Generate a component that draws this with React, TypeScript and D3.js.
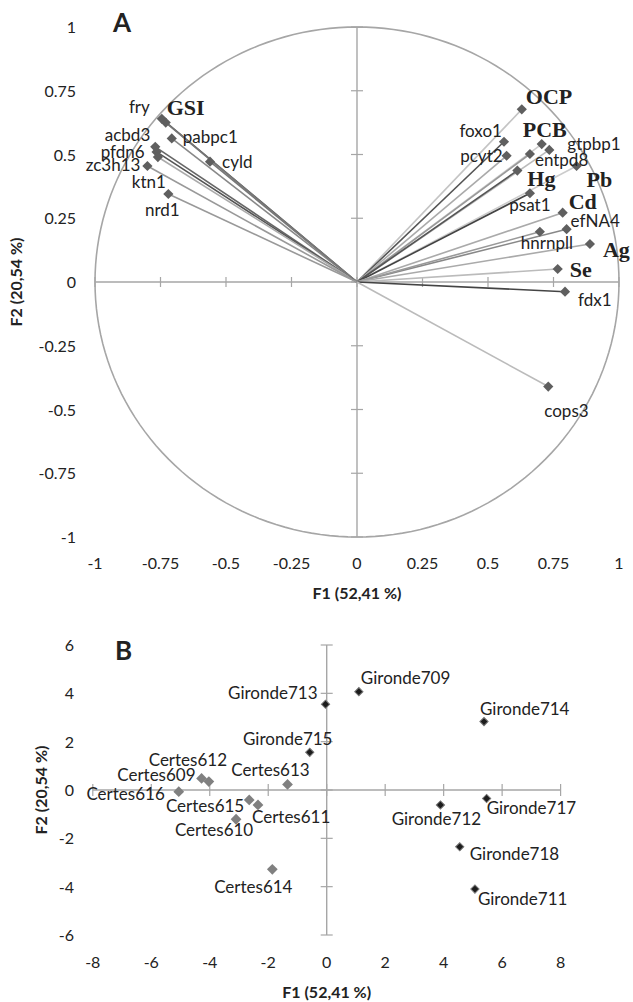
import * as d3 from "d3";

// Panel A: loadings on F1 / F2
const loadingNames = ["fry", "GSI", "acbd3", "pabpc1", "pfdn6", "ktn1", "zc3h13", "cyld", "nrd1",
  "OCP", "foxo1", "pcyt2", "PCB", "gtpbp1", "entpd8", "Pb", "Hg", "psat1", "Cd", "efNA4",
  "hnrnpll", "Ag", "Se", "fdx1", "cops3"];
const loadingF1 = [-0.745, -0.73, -0.77, -0.707, -0.765, -0.76, -0.8, -0.561, -0.72,
  0.629, 0.561, 0.571, 0.705, 0.734, 0.66, 0.838, 0.612, 0.66, 0.785, 0.8,
  0.698, 0.889, 0.766, 0.794, 0.73];
const loadingF2 = [0.64, 0.625, 0.53, 0.563, 0.51, 0.49, 0.455, 0.472, 0.345,
  0.677, 0.55, 0.495, 0.541, 0.518, 0.502, 0.455, 0.437, 0.348, 0.272, 0.207,
  0.197, 0.149, 0.051, -0.038, -0.41];
const physiology = ["GSI", "OCP", "PCB", "Pb", "Hg", "Cd", "Ag", "Se"];
const ticksA = [-1, -0.75, -0.5, -0.25, 0, 0.25, 0.5, 0.75, 1];

// Panel B: individual scores
const sampleNames = ["Gironde709", "Gironde713", "Gironde714", "Gironde715", "Certes609", "Certes612",
  "Certes613", "Certes616", "Certes615", "Certes611", "Certes610", "Gironde712", "Gironde717",
  "Gironde718", "Certes614", "Gironde711"];
const sampleF1 = [1.1, -0.04, 5.38, -0.58, -4.28, -4.03, -1.34, -5.06, -2.65, -2.35, -3.1, 3.89, 5.47,
  4.55, -1.86, 5.07];
const sampleF2 = [4.07, 3.55, 2.83, 1.56, 0.48, 0.35, 0.23, -0.07, -0.41, -0.62, -1.21, -0.62, -0.35,
  -2.35, -3.28, -4.1];
const ticksBx = [-8, -6, -4, -2, 0, 2, 4, 6, 8];
const ticksBy = [-6, -4, -2, 0, 2, 4, 6];

// layout: label offsets [dx, dy, anchor] and line greys
const labelPosA: Record<string, [number, number, string]> = {
  fry: [-12, -6, "end"], GSI: [1, -8, "start"], acbd3: [-5, -6, "end"], pabpc1: [11, 5, "start"],
  pfdn6: [-12, 6, "end"], ktn1: [-9, 31, "middle"], zc3h13: [-7, 5, "end"], cyld: [12, 6, "start"],
  nrd1: [-6, 22, "middle"], OCP: [4, -5, "start"], foxo1: [-2, -5, "end"], pcyt2: [-4, 6, "end"],
  PCB: [3, -7, "middle"], gtpbp1: [18, 0, "start"], entpd8: [5, 12, "start"], Pb: [10, 21, "start"],
  Hg: [10, 15, "start"], psat1: [0, 18, "middle"], Cd: [6, -4, "start"], efNA4: [4, -2, "start"],
  hnrnpll: [7, 17, "middle"], Ag: [13, 13, "start"], Se: [12, 8, "start"], fdx1: [13, 14, "start"],
  cops3: [-4, 30, "start"],
};
const lineGrey: Record<string, string> = {
  fry: "#555", GSI: "#777", acbd3: "#666", pabpc1: "#888", pfdn6: "#555", ktn1: "#aaa",
  zc3h13: "#999", cyld: "#777", nrd1: "#999", OCP: "#c4c4c4", foxo1: "#555", pcyt2: "#aaa",
  PCB: "#ccc", gtpbp1: "#bbb", entpd8: "#999", Pb: "#ccc", Hg: "#555", psat1: "#444",
  Cd: "#aaa", efNA4: "#888", hnrnpll: "#999", Ag: "#aaa", Se: "#bbb", fdx1: "#444", cops3: "#bbb",
};
const labelPosB: Record<string, [number, number, string]> = {
  Gironde709: [2, -8, "start"], Gironde713: [-8, -5, "end"], Gironde714: [-4, -7, "start"],
  Gironde715: [-22, -7, "middle"], Certes609: [-6, 3, "end"], Certes612: [-21, -16, "middle"],
  Certes613: [-17, -8, "middle"], Certes616: [-14, 8, "end"], Certes615: [-5, 12, "end"],
  Certes611: [-6, 18, "start"], Certes610: [-22, 17, "middle"], Gironde712: [-4, 20, "middle"],
  Gironde717: [0, 16, "start"], Gironde718: [10, 13, "start"], Certes614: [-19, 24, "middle"],
  Gironde711: [3, 16, "start"],
};

const axisGrey = "#a6a6a6";
const sans = "Lato, 'Open Sans', sans-serif";
const serif = "'Liberation Serif', 'DejaVu Serif', serif";

const diamond = (area: number) => d3.symbol(d3.symbolSquare, area)() as string;

const App = () => {
  const xA = d3.scaleLinear().domain([-1, 1]).range([95, 619]);
  const yA = d3.scaleLinear().domain([-1, 1]).range([537, 27]);
  const xB = d3.scaleLinear().domain([-8, 8]).range([92.8, 560.6]);
  const yB = d3.scaleLinear().domain([-6, 6]).range([935, 645]);

  const loadings = loadingNames.map((n, i) => ({ name: n, f1: loadingF1[i], f2: loadingF2[i] }));
  const samples = sampleNames.map((n, i) => ({ name: n, f1: sampleF1[i], f2: sampleF2[i] }));

  const circle = d3.range(0, 361, 2).map((a) => [Math.cos((a * Math.PI) / 180), Math.sin((a * Math.PI) / 180)]);
  const circlePath = d3.line().x((d) => xA(d[0])).y((d) => yA(d[1]))(circle as [number, number][]);

  return (
    <svg width={633} height={1002} style={{ position: "absolute", left: 0, top: 0, background: "#fff" }}>
      {/* ---------- A ---------- */}
      <g>
        <path d={circlePath!} fill="none" stroke={axisGrey} strokeWidth={1.6} />
        <line x1={xA(-1)} x2={xA(1)} y1={yA(0)} y2={yA(0)} stroke={axisGrey} strokeWidth={1.4} />
        <line x1={xA(0)} x2={xA(0)} y1={yA(-1)} y2={yA(1)} stroke={axisGrey} strokeWidth={1.4} />
        {ticksA.map((t) => (
          <g key={"t" + t}>
            <line x1={xA(t)} x2={xA(t)} y1={yA(0) - 5} y2={yA(0) + 5} stroke={axisGrey} strokeWidth={1.2} />
            <line x1={xA(0) - 6} x2={xA(0) + 6} y1={yA(t)} y2={yA(t)} stroke={axisGrey} strokeWidth={1.2} />
            <text x={xA(t)} y={569} textAnchor="middle" fontFamily={sans} fontSize={16} fill="#222">{t}</text>
            <text x={76} y={yA(t) + 6} textAnchor="end" fontFamily={sans} fontSize={16} fill="#222">{t}</text>
          </g>
        ))}
        {loadings.map((d) => (
          <line key={"l" + d.name} x1={xA(0)} y1={yA(0)} x2={xA(d.f1)} y2={yA(d.f2)}
            stroke={lineGrey[d.name]} strokeWidth={1.6} />
        ))}
        {loadings.map((d) => (
          <path key={"m" + d.name} d={diamond(52)} fill="#5f5f5f"
            transform={`translate(${xA(d.f1)},${yA(d.f2)}) rotate(45)`} />
        ))}
        {loadings.map((d) => {
          const [dx, dy, anchor] = labelPosA[d.name];
          const bold = physiology.includes(d.name);
          return (
            <text key={"n" + d.name} x={xA(d.f1) + dx} y={yA(d.f2) + dy} textAnchor={anchor}
              fontFamily={bold ? serif : sans} fontWeight={bold ? "bold" : "normal"}
              fontSize={bold ? 22 : 17} fill="#222">{d.name}</text>
          );
        })}
        <text x={113} y={32} fontFamily={sans} fontWeight="bold" fontSize={26} fill="#222">A</text>
        <text x={xA(0)} y={599} textAnchor="middle" fontFamily={sans} fontWeight="bold" fontSize={16} fill="#222">F1 (52,41 %)</text>
        <text transform={`translate(22,${yA(0)}) rotate(-90)`} textAnchor="middle" fontFamily={sans}
          fontWeight="bold" fontSize={16} fill="#222">F2 (20,54 %)</text>
      </g>

      {/* ---------- B ---------- */}
      <g>
        <line x1={xB(-8)} x2={xB(8)} y1={yB(0)} y2={yB(0)} stroke={axisGrey} strokeWidth={1.4} />
        <line x1={xB(0)} x2={xB(0)} y1={yB(-6)} y2={yB(6)} stroke={axisGrey} strokeWidth={1.4} />
        {ticksBx.map((t) => (
          <g key={"bx" + t}>
            <line x1={xB(t)} x2={xB(t)} y1={yB(0) - 6} y2={yB(0) + 6} stroke={axisGrey} strokeWidth={1.2} />
            <text x={xB(t)} y={968} textAnchor="middle" fontFamily={sans} fontSize={16} fill="#222">{t}</text>
          </g>
        ))}
        {ticksBy.map((t) => (
          <g key={"by" + t}>
            <line x1={xB(0) - 6} x2={xB(0) + 6} y1={yB(t)} y2={yB(t)} stroke={axisGrey} strokeWidth={1.2} />
            <text x={74} y={yB(t) + 6} textAnchor="end" fontFamily={sans} fontSize={16} fill="#222">{t}</text>
          </g>
        ))}
        {samples.map((d) => {
          const gironde = d.name.startsWith("Gironde");
          return (
            <path key={"s" + d.name} d={diamond(gironde ? 34 : 58)}
              fill={gironde ? "#1c1c1c" : "#808080"} stroke={gironde ? "#777" : "none"} strokeWidth={1}
              transform={`translate(${xB(d.f1)},${yB(d.f2)}) rotate(45)`} />
          );
        })}
        {samples.map((d) => {
          const [dx, dy, anchor] = labelPosB[d.name];
          return (
            <text key={"sl" + d.name} x={xB(d.f1) + dx} y={yB(d.f2) + dy} textAnchor={anchor}
              fontFamily={sans} fontSize={17} fill="#222">{d.name}</text>
          );
        })}
        <text x={115} y={660} fontFamily={sans} fontWeight="bold" fontSize={26} fill="#222">B</text>
        <text x={xB(0)} y={998} textAnchor="middle" fontFamily={sans} fontWeight="bold" fontSize={16} fill="#222">F1 (52,41 %)</text>
        <text transform={`translate(47,${yB(0)}) rotate(-90)`} textAnchor="middle" fontFamily={sans}
          fontWeight="bold" fontSize={16} fill="#222">F2 (20,54 %)</text>
      </g>
    </svg>
  );
};

export default App;
